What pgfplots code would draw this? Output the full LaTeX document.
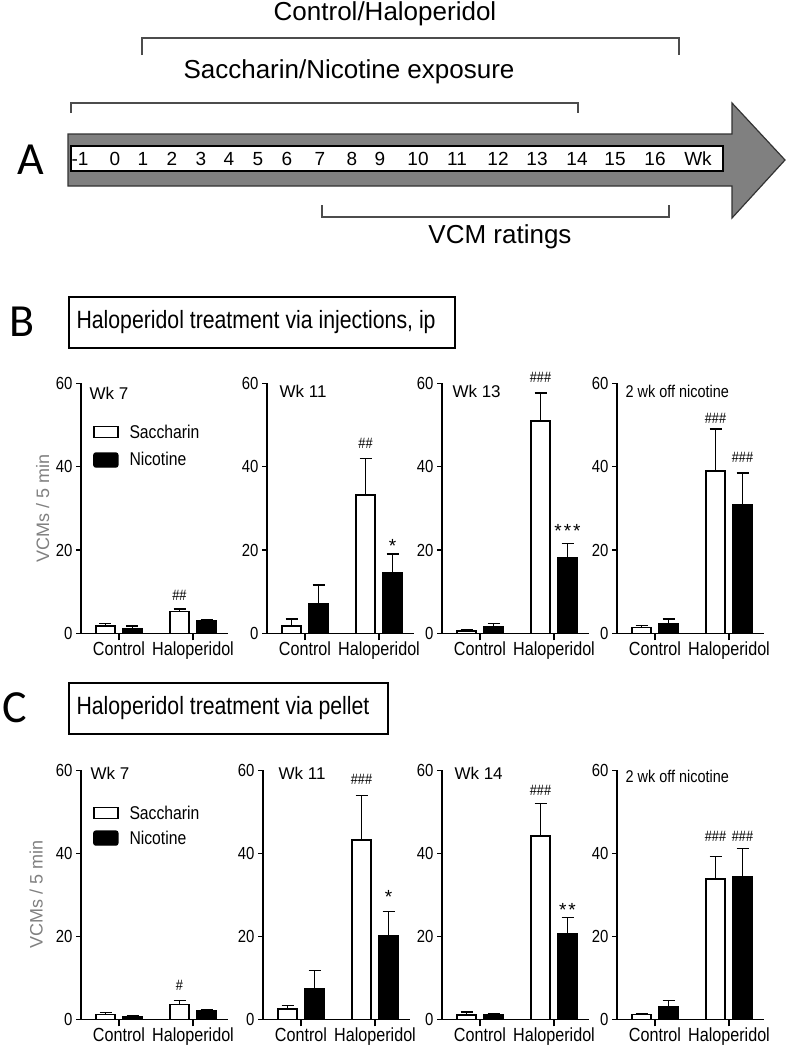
\documentclass[border=0pt]{standalone}
\usepackage{fontspec}
\setmainfont{Liberation Sans}
\newfontfamily\nf[FakeStretch=0.85]{Liberation Sans}
\newfontfamily\lf{Carlito}
\usepackage{pgfplots}
\pgfplotsset{compat=1.18}
\newcommand{\fs}[1]{\fontsize{#1}{#1}\selectfont}

\tikzset{
  hashes/.style={font=\nf\fs{15}},
  stars/.style={anchor=base, font=\fs{19}},
  ttl/.style={anchor=west, font=\fs{17}},
}
\pgfplotsset{
  vcm/.style={
    scale only axis, width=147pt, xmin=0, xmax=147, ymin=0, ymax=60,
    axis lines=left, axis line style={-, line width=1.5pt, black},
    ytick={0,20,40,60}, xtick={38,112}, xticklabels={Control,Haloperidol},
    tick align=outside, major tick length=5pt,
    tick style={line width=1.5pt, black},
    xtick style={/pgfplots/major tick length=7pt},
    yticklabel style={font=\nf\fs{17.5}},
    xticklabel style={font=\nf\fs{19}},
    /pgf/number format/assume math mode=true,
    clip=false,
    legend style={draw=none, fill=none, font=\nf\fs{18.5}, inner sep=0pt,
      /tikz/every odd column/.append style={column sep=9pt}},
    legend cell align=left,
  },
  bars/.style={ybar, /pgf/bar width=19pt, /pgf/bar shift=0pt, line width=1.4pt, draw=black,
    error bars/y dir=plus, error bars/y explicit,
    error bars/error bar style={line width=1.4pt, black, solid},
    error bars/error mark options={rotate=90, mark size=6pt, line width=1.4pt, black}},
  sac/.style={bars, fill=white,
    legend image code/.code={\draw[line width=1.3pt,draw=black,fill=white] (0pt,-5.5pt) rectangle (24pt,5.5pt);}},
  nic/.style={bars, fill=black,
    legend image code/.code={\draw[line width=1.3pt,draw=black,fill=black,rounded corners=2pt] (0pt,-7pt) rectangle (24pt,7pt);}},
}

\begin{document}
\begin{tikzpicture}
\path[use as bounding box] (0,0) rectangle (787pt,-1050pt);

\begin{scope}[x=1pt,y=-1pt]
  % panel A
  \node[font=\lf\fs{46}] at (31,160) {A};
  \node[font=\fs{26}] at (385,14) {Control/Haloperidol};
  \node[font=\fs{26}] at (349,72) {Saccharin/Nicotine exposure};
  \node[font=\fs{26}] at (500,237) {VCM ratings};
  \draw[line width=1.6pt, black!70] (142,55) -- (142,38) -- (679,38) -- (679,55);
  \draw[line width=1.6pt, black!70] (71,113) -- (71,103) -- (578,103) -- (578,113);
  \draw[line width=1.6pt, black!70] (322,205) -- (322,217) -- (669,217) -- (669,205);
  \draw[line width=1.2pt, black!80, fill=black!50] (68,134) -- (732,134) -- (732,103) -- (785,160) -- (732,218) -- (732,186) -- (68,186) -- cycle;
  \draw[line width=1.6pt, black, fill=white] (71,146) rectangle (723,171);
  \foreach \x/\t in {80/-1,115/0,143/1,172/2,201/3,229/4,258/5,287/6,320/7,352/8,380/9,418/10,457/11,498/12,537/13,577/14,615/15,655/16,698/Wk}
    \node[font=\fs{19}, anchor=base, inner sep=0pt] at (\x,165.3) {\t};
  % panel B and C headers
  \node[font=\lf\fs{46}] at (22,322) {B};
  \draw[line width=1.2pt] (69,297) rectangle (455,348);
  \node[anchor=west, font=\nf\fs{25}] at (73,322) {Haloperidol treatment via injections, ip};
  \node[font=\lf\fs{46}] at (15,708) {C};
  \draw[line width=1.2pt] (69,683) rectangle (388,734);
  \node[anchor=west, font=\nf\fs{25}] at (73,708) {Haloperidol treatment via pellet};
\end{scope}

% ---------------- Row B ----------------
\begin{axis}[vcm, height=250pt, at={(81pt,-633.3pt)}, anchor=south west,
  ylabel={VCMs / 5 min}, ylabel style={at={(rel axis cs:-0.26,0.5)}, anchor=center, font=\fs{18}, text=black!50},
  legend style={at={(axis cs:12,50.6)}, anchor=north west, row sep=9pt}]
\addplot[sac] coordinates {(24.5,1.8) +- (0,0.6) (98.5,5.2) +- (0,0.6)};
\addlegendentry{Saccharin}
\addplot[nic] coordinates {(51.5,1.0) +- (0,0.8) (125.5,3.0) +- (0,0.3)};
\addlegendentry{Nicotine}
\node[ttl] at (axis cs:5,57.7) {Wk 7};
\node[hashes] at (axis cs:98.5,9.2) {\#\#};
\end{axis}

\begin{axis}[vcm, height=250pt, at={(267pt,-633.3pt)}, anchor=south west]
\addplot[sac] coordinates {(24.5,1.8) +- (0,1.6) (98.5,33.2) +- (0,8.8)};
\addplot[nic] coordinates {(51.5,7.2) +- (0,4.4) (125.5,14.6) +- (0,4.4)};
\node[ttl] at (axis cs:9,58) {Wk 11};
\node[hashes] at (axis cs:98.5,45.7) {\#\#};
\node[stars] at (axis cs:125.5,19.3) {*};
\end{axis}

\begin{axis}[vcm, height=250pt, at={(442pt,-633.3pt)}, anchor=south west]
\addplot[sac] coordinates {(24.5,0.55) +- (0,0.35) (98.5,51.0) +- (0,6.7)};
\addplot[nic] coordinates {(51.5,1.6) +- (0,0.8) (125.5,18.1) +- (0,3.5)};
\node[ttl] at (axis cs:7,58) {Wk 13};
\node[hashes] at (axis cs:98.5,61.5) {\#\#\#};
\node[stars] at (axis cs:125.5,22.9) {*\kern2pt*\kern2pt*};
\end{axis}

\begin{axis}[vcm, height=250pt, at={(617pt,-633.3pt)}, anchor=south west]
\addplot[sac] coordinates {(24.5,1.45) +- (0,0.45) (98.5,39.0) +- (0,10.0)};
\addplot[nic] coordinates {(51.5,2.4) +- (0,1.0) (125.5,30.8) +- (0,7.7)};
\node[ttl, font=\nf\fs{17}] at (axis cs:5,58) {2 wk off nicotine};
\node[hashes] at (axis cs:98.5,51.5) {\#\#\#};
\node[hashes] at (axis cs:125.5,42.3) {\#\#\#};
\end{axis}

% ---------------- Row C ----------------
\begin{axis}[vcm, height=249pt, at={(81pt,-1019.3pt)}, anchor=south west,
  ylabel={VCMs / 5 min}, ylabel style={at={(rel axis cs:-0.305,0.5)}, anchor=center, font=\fs{18}, text=black!50},
  legend style={at={(axis cs:12,52)}, anchor=north west, row sep=6pt}]
\addplot[sac] coordinates {(24.5,1.2) +- (0,0.4) (98.5,3.6) +- (0,0.9)};
\addlegendentry{Saccharin}
\addplot[nic] coordinates {(51.5,0.6) +- (0,0.25) (125.5,2.1) +- (0,0.3)};
\addlegendentry{Nicotine}
\node[ttl] at (axis cs:6,59.3) {Wk 7};
\node[hashes] at (axis cs:98.5,8.1) {\#};
\end{axis}

\begin{axis}[vcm, height=249pt, at={(263pt,-1019.3pt)}, anchor=south west]
\addplot[sac] coordinates {(24.5,2.5) +- (0,0.9) (98.5,43.2) +- (0,10.8)};
\addplot[nic] coordinates {(51.5,7.3) +- (0,4.4) (125.5,20.1) +- (0,5.9)};
\node[ttl] at (axis cs:12,59.3) {Wk 11};
\node[hashes] at (axis cs:98.5,57.7) {\#\#\#};
\node[stars] at (axis cs:125.5,28.0) {*};
\end{axis}

\begin{axis}[vcm, height=249pt, at={(442pt,-1019.3pt)}, anchor=south west]
\addplot[sac] coordinates {(24.5,1.0) +- (0,0.8) (98.5,44.2) +- (0,7.8)};
\addplot[nic] coordinates {(51.5,1.0) +- (0,0.3) (125.5,20.7) +- (0,3.8)};
\node[ttl] at (axis cs:9,59.3) {Wk 14};
\node[hashes] at (axis cs:98.5,55.1) {\#\#\#};
\node[stars] at (axis cs:125.5,24.7) {*\kern2pt*};
\end{axis}

\begin{axis}[vcm, height=249pt, at={(617pt,-1019.3pt)}, anchor=south west]
\addplot[sac] coordinates {(24.5,1.1) +- (0,0.3) (98.5,33.8) +- (0,5.5)};
\addplot[nic] coordinates {(51.5,3.0) +- (0,1.5) (125.5,34.4) +- (0,6.8)};
\node[ttl, font=\nf\fs{17}] at (axis cs:5,58.5) {2 wk off nicotine};
\node[hashes] at (axis cs:98.5,44.2) {\#\#\#};
\node[hashes] at (axis cs:125.5,44.2) {\#\#\#};
\end{axis}
\end{tikzpicture}
\end{document}
